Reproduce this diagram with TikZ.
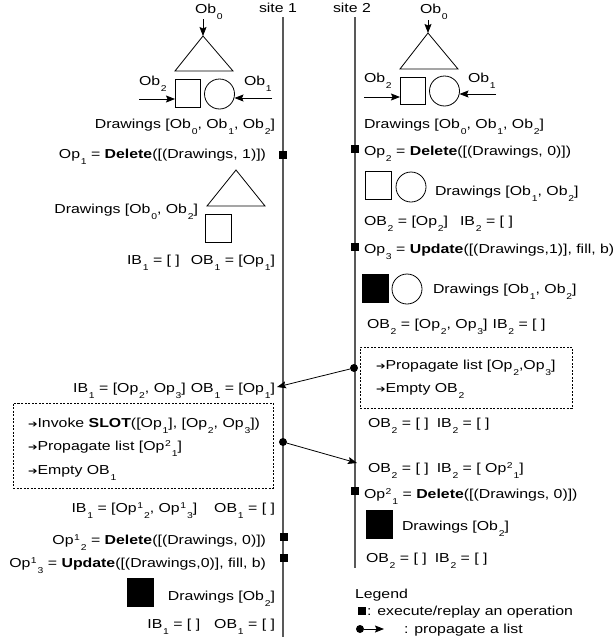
\documentclass[tikz,border=0pt]{standalone}
\usepackage{fontspec}
\setmainfont[FakeStretch=1.22]{Liberation Sans}
\newfontfamily\symf[FakeStretch=1.2]{DejaVu Sans}
\usetikzlibrary{arrows.meta}
\newcommand{\lo}[1]{\kern0.8pt\raisebox{-6.3pt}{\fontsize{8.5}{8.5}\selectfont #1}}
\newcommand{\hi}[1]{\kern0.5pt\raisebox{3.6pt}{\fontsize{8.5}{8.5}\selectfont #1}}
\newcommand{\hilo}[2]{\kern0.5pt\raisebox{3.6pt}{\fontsize{8.5}{8.5}\selectfont #1}\kern1pt\raisebox{-6.3pt}{\fontsize{8.5}{8.5}\selectfont #2}}
\newcommand{\itm}{{\symf\fontsize{9.5}{9.5}\selectfont ➔}}
\begin{document}
\begin{tikzpicture}[x=1pt,y=-1pt,
  every node/.style={inner sep=0pt, outer sep=0pt},
  font=\fontsize{13}{15}\selectfont,
  lbl/.style={anchor=base east},
  lblw/.style={anchor=base west},
  site/.style={draw=black!65, line width=1.5pt},
  marker/.style={rectangle, fill=black, minimum size=8pt},
  shp/.style={draw, line width=0.8pt},
  sqbox/.style={rectangle, draw, line width=0.8pt, minimum width=26pt, minimum height=28pt},
  fsqbox/.style={rectangle, fill=black, draw, line width=0.8pt, minimum width=26pt, minimum height=28pt},
  circ/.style={circle, draw, line width=0.8pt, minimum size=30pt},
  ptr/.style={-{Stealth[length=9pt,width=7pt,inset=1.5pt]}, line width=0.8pt},
  dotn/.style={circle, fill=black, minimum size=8pt},
  dbox/.style={rectangle, draw, dash pattern=on 2pt off 1.5pt, line width=0.7pt, anchor=north west}
]
\useasboundingbox (0,0) rectangle (614,643);

% site lines
\node[lblw] (site1) at (259,12) {site 1};
\node[lblw] (site2) at (333,12) {site 2};
\coordinate (s1top) at (283,17);
\coordinate (s1bot) at (283,637);
\coordinate (s2top) at (355,17);
\coordinate (s2bot) at (355,568);
\draw[site] (s1top) -- (s1bot);
\draw[site] (s2top) -- (s2bot);

% ---------- site 1 top figure
\node[lblw] (ob0a) at (195,13.5) {Ob\lo{0}};
\coordinate (ob0aS) at (203,19);
\coordinate (apexA) at (203,36);
\draw[shp] (apexA) -- (233,71) -- (175,71) -- cycle;
\draw[ptr] (ob0aS) -- (apexA);
\node[sqbox, minimum width=25pt] (sqA) at (187.5,93) {};
\node[circ] (ciA) at (219.5,94) {};
\node[lblw] (ob2a) at (139,85) {Ob\lo{2}};
\node[lblw] (ob1a) at (244,85) {Ob\lo{1}};
\coordinate (ob2aS) at (139,99);
\coordinate (ob1aS) at (272,98);
\draw[ptr] (ob2aS) -- (ob2aS -| sqA.west);
\draw[ptr] (ob1aS) -- (234.5,98);

\node[lbl] (tA1) at (275,128) {Drawings [Ob\lo{0}, Ob\lo{1}, Ob\lo{2}]};
\node[lbl] (op1) at (266,158) {Op\lo{1} = \textbf{Delete}([(Drawings, 1)])};
\node[marker] (m1) at (283,155) {};

\coordinate (apexA2) at (236,170);
\draw[shp] (apexA2) -- (265,206) -- (207,206) -- cycle;
\node[sqbox] (sqA2) at (218,228) {};
\node[lbl] (tA2) at (198,213) {Drawings [Ob\lo{0}, Ob\lo{2}]};
\node[lbl] (tA3) at (275,264) {IB\lo{1} = [ ]\hspace{11pt}OB\lo{1} = [Op\lo{1}]};

\node[lbl] (tA4) at (275,392) {IB\lo{1} = [Op\lo{2}, Op\lo{3}]\hspace{5pt}OB\lo{1} = [Op\lo{1}]};
\node[dbox, minimum width=260pt, minimum height=85pt] (boxL) at (13,403) {};
\node[lblw] (bL1) at (28,427) {\itm Invoke \textbf{SLOT}([Op\lo{1}], [Op\lo{2}, Op\lo{3}])};
\node[lblw] (bL2) at (28,450) {\itm Propagate list [Op\hilo{2}{1}]};
\node[lblw] (bL3) at (28,474) {\itm Empty OB\lo{1}};
\node[dotn] (dotL) at (283,442) {};

\node[lbl] (tA5) at (275,512) {IB\lo{1} = [Op\hilo{1}{2}, Op\hilo{1}{3}]\hspace{17pt}OB\lo{1} = [ ]};
\node[lbl] (op12) at (266,544) {Op\hilo{1}{2} = \textbf{Delete}([(Drawings, 0)])};
\node[marker] (m12) at (284,537) {};
\node[lbl] (op13) at (266,567) {Op\hilo{1}{3} = \textbf{Update}([(Drawings,0)], fill, b)};
\node[marker] (m13) at (284,558) {};
\node[fsqbox] (fsqA) at (140,592) {};
\node[lbl] (tA6) at (275,600) {Drawings [Ob\lo{2}]};
\node[lbl] (tA7) at (275,628) {IB\lo{1} = [ ]\hspace{14pt}OB\lo{1} = [ ]};

% ---------- site 2 top figure
\node[lblw] (ob0b) at (420,13) {Ob\lo{0}};
\coordinate (ob0bS) at (428,20);
\coordinate (apexB) at (428,33);
\draw[shp] (apexB) -- (458,69) -- (400,69) -- cycle;
\draw[ptr] (ob0bS) -- (apexB);
\node[sqbox, minimum width=25pt, minimum height=27pt] (sqB) at (412.5,90.5) {};
\node[circ] (ciB) at (444.5,91) {};
\node[lblw] (ob2b) at (364,82) {Ob\lo{2}};
\node[lblw] (ob1b) at (468,82) {Ob\lo{1}};
\coordinate (ob2bS) at (364,97);
\coordinate (ob1bS) at (496,94);
\draw[ptr] (ob2bS) -- (ob2bS -| sqB.west);
\draw[ptr] (ob1bS) -- (459.5,94);

\node[lblw] (tB1) at (364,128) {Drawings [Ob\lo{0}, Ob\lo{1}, Ob\lo{2}]};
\node[lblw] (op2) at (364,155) {Op\lo{2} = \textbf{Delete}([(Drawings, 0)])};
\node[marker] (m2) at (355,149) {};
\node[sqbox] (sqB2) at (378,185.5) {};
\node[circ] (ciB2) at (411,187) {};
\node[lblw] (tB2) at (435,195) {Drawings [Ob\lo{1}, Ob\lo{2}]};
\node[lblw] (tB3) at (364,225) {OB\lo{2} = [Op\lo{2}]\hspace{12pt}IB\lo{2} = [ ]};
\node[lblw] (op3) at (364,253) {Op\lo{3} = \textbf{Update}([(Drawings,1)], fill, b)};
\node[marker] (m3) at (355,247) {};
\node[fsqbox] (fsqB) at (375,288) {};
\node[circ] (ciB3) at (407,289) {};
\node[lblw] (tB4) at (433,293) {Drawings [Ob\lo{1}, Ob\lo{2}]};
\node[lblw] (tB5) at (367,328) {OB\lo{2} = [Op\lo{2}, Op\lo{3}]\hspace{5pt}IB\lo{2} = [ ]};

\node[dbox, minimum width=212pt, minimum height=61pt] (boxR) at (360,347) {};
\node[lblw] (bR1) at (376,369) {\itm Propagate list [Op\lo{2},Op\lo{3}]};
\node[lblw] (bR2) at (376,392) {\itm Empty OB\lo{2}};
\node[dotn] (dotR) at (354,368) {};

\node[lblw] (tB6) at (368,427) {OB\lo{2} = [ ]\hspace{8pt}IB\lo{2} = [ ]};
\node[lblw] (tB7) at (368,472) {OB\lo{2} = [ ]\hspace{8pt}IB\lo{2} = [ Op\hilo{2}{1}]};
\node[lblw] (op21) at (364,498) {Op\hilo{2}{1} = \textbf{Delete}([(Drawings, 0)])};
\node[marker] (m21) at (355,491) {};
\node[fsqbox] (fsqB2) at (379,524.5) {};
\node[lblw] (tB8) at (402,530) {Drawings [Ob\lo{2}]};
\node[lblw] (tB9) at (366,562) {OB\lo{2} = [ ]\hspace{8pt}IB\lo{2} = [ ]};

% propagation arrows
\coordinate (pL) at (277,387);
\coordinate (pR) at (357,463);
\draw[ptr] (dotR) -- (pL);
\draw[ptr] (dotL) -- (pR);

% legend
\node[lblw] (leg) at (355,598) {Legend};
\node[marker] (legsq) at (362,611) {};
\node[lblw] (leg1) at (367,615) {: execute/replay an operation};
\node[dotn] (legdot) at (360,629) {};
\coordinate (legtip) at (384,629);
\draw[ptr] (legdot) -- (legtip);
\node[lblw] (leg2) at (404,633) {: propagate a list};
\end{tikzpicture}
\end{document}
